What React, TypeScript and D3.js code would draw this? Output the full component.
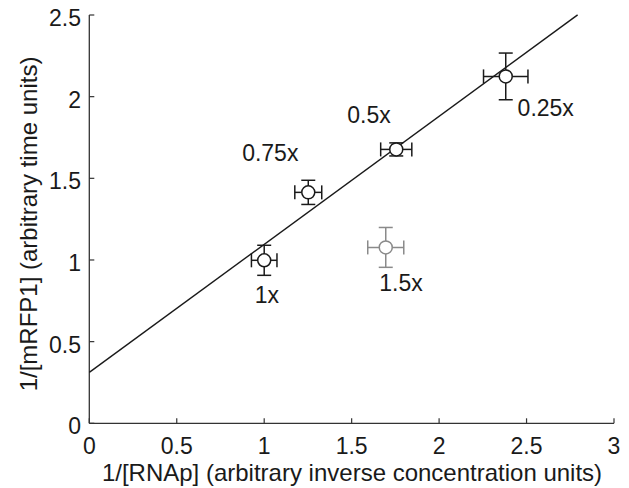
import React from "react";
import * as d3 from "d3";

// ---- data ----
const categories = ["1x", "0.75x", "0.5x", "0.25x", "1.5x"];
const xValues = [1.0, 1.252, 1.755, 2.381, 1.695];
const yValues = [0.998, 1.414, 1.677, 2.124, 1.077];
const xErrors = [0.073, 0.077, 0.089, 0.127, 0.103];
const yErrors = [0.092, 0.074, 0.04, 0.143, 0.122];
const outlier = [false, false, false, false, true];
const fitIntercept = 0.312;
const fitSlope = 0.784;
const fitRange = [0, 2.792];
const xTicks = [0, 0.5, 1, 1.5, 2, 2.5, 3];
const yTicks = [0, 0.5, 1, 1.5, 2, 2.5];
const xTitle = "1/[RNAp] (arbitrary inverse concentration units)";
const yTitle = "1/[mRFP1] (arbitrary time units)";

// ---- layout / style ----
const W = 629;
const H = 488;
const labelOffsets: [number, number][] = [
  [2.7, 42.6],
  [-38, -31.5],
  [-27.3, -26.6],
  [40, 40],
  [15.3, 44],
];
const FONT = "'Liberation Sans', Arial, Helvetica, sans-serif";
const INK = "#1a1a1a";
const GRAY = "#8a8a8a";

export default function App() {
  const x = d3.scaleLinear().domain([0, 3]).range([89.3, 614]);
  const y = d3.scaleLinear().domain([0, 2.5]).range([423.3, 15]);
  const line = d3
    .line<number>()
    .x((d) => x(d))
    .y((d) => y(fitIntercept + fitSlope * d));
  const cap = 7;
  const tick = 5;

  return (
    <svg
      width={W}
      height={H}
      style={{ position: "absolute", left: 0, top: 0, background: "#fff" }}
      fontFamily={FONT}
    >
      <rect width={W} height={H} fill="#fff" />
      {/* axes */}
      <line x1={x(0)} x2={x(3)} y1={y(0)} y2={y(0)} stroke="#333" strokeWidth={1.3} />
      <line x1={x(0)} x2={x(0)} y1={y(0)} y2={y(2.5)} stroke="#333" strokeWidth={1.3} />
      {xTicks.map((t) => (
        <g key={"x" + t}>
          <line x1={x(t)} x2={x(t)} y1={y(0)} y2={y(0) - tick} stroke="#333" strokeWidth={1.2} />
          <text x={x(t)} y={454} textAnchor="middle" fontSize={23} fill={INK}>
            {String(t)}
          </text>
        </g>
      ))}
      {yTicks.map((t) => (
        <g key={"y" + t}>
          <line x1={x(0)} x2={x(0) + tick} y1={y(t)} y2={y(t)} stroke="#333" strokeWidth={1.2} />
          <text x={81} y={y(t) + 11} textAnchor="end" fontSize={23} fill={INK}>
            {String(t)}
          </text>
        </g>
      ))}
      <text x={352} y={481} textAnchor="middle" fontSize={24} fill={INK}>
        {xTitle}
      </text>
      <text
        transform={`translate(37,224) rotate(-90)`}
        textAnchor="middle"
        fontSize={24}
        fill={INK}
      >
        {yTitle}
      </text>

      {/* fit line */}
      <path d={line(fitRange) || ""} fill="none" stroke={INK} strokeWidth={1.4} />

      {/* points */}
      {categories.map((c, i) => {
        const cx = x(xValues[i]);
        const cy = y(yValues[i]);
        const col = outlier[i] ? GRAY : INK;
        const x0 = x(xValues[i] - xErrors[i]);
        const x1 = x(xValues[i] + xErrors[i]);
        const y0 = y(yValues[i] - yErrors[i]);
        const y1 = y(yValues[i] + yErrors[i]);
        return (
          <g key={c} stroke={col} strokeWidth={1.5} fill="none">
            <line x1={x0} x2={x1} y1={cy} y2={cy} />
            <line x1={x0} x2={x0} y1={cy - cap} y2={cy + cap} />
            <line x1={x1} x2={x1} y1={cy - cap} y2={cy + cap} />
            <line x1={cx} x2={cx} y1={y0} y2={y1} />
            <line x1={cx - cap} x2={cx + cap} y1={y0} y2={y0} />
            <line x1={cx - cap} x2={cx + cap} y1={y1} y2={y1} />
            <circle cx={cx} cy={cy} r={6.5} fill="#fff" />
            <text
              x={cx + labelOffsets[i][0]}
              y={cy + labelOffsets[i][1]}
              textAnchor="middle"
              fontSize={23}
              fill={INK}
              stroke="none"
            >
              {c}
            </text>
          </g>
        );
      })}
    </svg>
  );
}
